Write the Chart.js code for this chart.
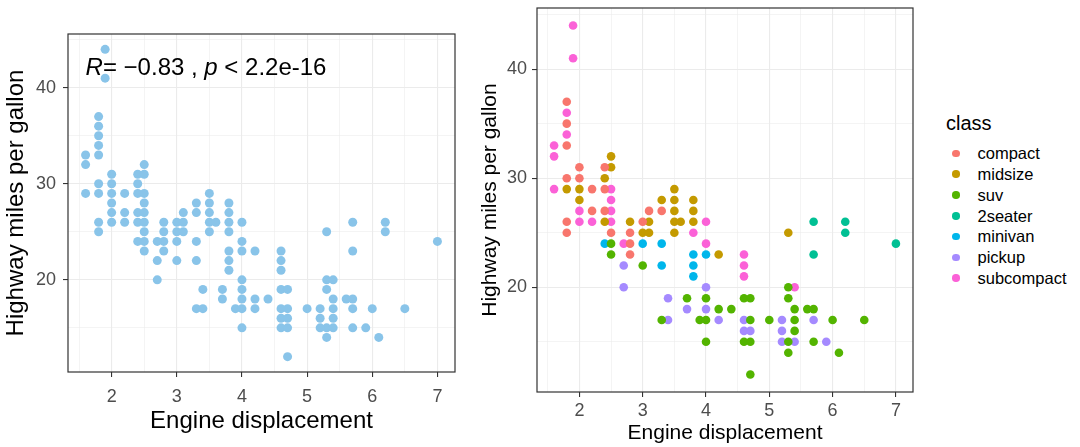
<!DOCTYPE html>
<html>
<head>
<meta charset="utf-8">
<script src="https://cdn.jsdelivr.net/npm/chart.js@4/dist/chart.umd.min.js"></script>
<style>
  body { margin: 0; background: #fff; width: 1080px; height: 447px; position: relative; overflow: hidden;
         font-family: "Liberation Sans", Arial, sans-serif; }
  #leftChart { position: absolute; left: 0; top: 0; }
  #rightChart { position: absolute; left: 470px; top: 0; }
  #legendTitle { position: absolute; left: 946px; top: 113px; font-size: 20px; line-height: 20px; color: #000; }
  #legendItems { position: absolute; left: 952px; top: 143px; }
  .row { height: 20.8px; display: flex; align-items: center; font-size: 16.5px; color: #000; }
  .dot { width: 7.5px; height: 7.5px; border-radius: 50%; margin-right: 18px; }
  .row span.lbl { line-height: 1; }
</style>
</head>
<body>
<canvas id="leftChart" width="470" height="447"></canvas>
<canvas id="rightChart" width="450" height="447"></canvas>
<div id="legendTitle">class</div>
<div id="legendItems"></div>

<script>
// mpg: engine displacement vs highway mpg, one entry per visible dot, grouped by class
const classNames  = ['compact', 'midsize', 'suv', '2seater', 'minivan', 'pickup', 'subcompact'];
const classColors = ['#F8766D', '#C49A00', '#53B400', '#00C094', '#00B6EB', '#A58AFF', '#FB61D7'];

const compactDispl = [1.8, 1.8, 1.8, 1.8, 1.8, 1.8, 2.0, 2.0, 2.2, 2.2, 2.4, 2.4, 2.4, 2.5, 2.8, 2.8, 2.8, 3.0, 3.1, 3.3];
const compactHwy   = [37, 35, 33, 30, 26, 25, 31, 30, 29, 27, 31, 29, 27, 25, 25, 24, 23, 26, 27, 27];

const midsizeDispl = [1.8, 2.0, 2.0, 2.4, 2.4, 2.5, 2.5, 2.8, 3.0, 3.1, 3.1, 3.3, 3.5, 3.5, 3.5, 3.5, 3.5, 3.6, 3.8, 3.8, 3.8, 4.2, 5.3];
const midsizeHwy   = [29, 29, 28, 30, 26, 32, 31, 26, 25, 26, 25, 28, 29, 28, 27, 26, 25, 26, 28, 27, 26, 23, 25];

const suvDispl = [2.5, 2.5, 3.0, 3.3, 3.7, 3.9, 4.0, 4.0, 4.0, 4.2, 4.4, 4.6, 4.6, 4.7, 4.7, 4.7, 4.7, 5.0, 5.3, 5.3, 5.3, 5.3, 5.4, 5.4, 5.4, 5.6, 5.7, 5.7, 6.0, 6.1, 6.5];
const suvHwy   = [24, 23, 22, 17, 19, 17, 19, 17, 15, 18, 18, 19, 15, 19, 17, 15, 12, 17, 20, 19, 15, 14, 18, 17, 16, 18, 18, 15, 17, 14, 17];

const twoSeaterDispl = [5.7, 5.7, 6.2, 6.2, 7.0];
const twoSeaterHwy   = [26, 23, 26, 25, 24];

const minivanDispl = [2.4, 3.0, 3.3, 3.3, 3.8, 3.8, 3.8, 4.0];
const minivanHwy   = [24, 24, 24, 22, 23, 22, 21, 23];

const pickupDispl = [2.7, 2.7, 3.4, 3.4, 3.7, 4.0, 4.0, 4.2, 4.6, 4.6, 4.7, 5.2, 5.2, 5.2, 5.4, 5.7, 5.9];
const pickupHwy   = [22, 20, 19, 17, 18, 20, 18, 17, 17, 16, 16, 17, 16, 15, 15, 17, 15];

const subcompactDispl = [1.6, 1.6, 1.6, 1.8, 1.8, 1.9, 1.9, 2.0, 2.0, 2.2, 2.5, 2.5, 2.5, 2.5, 2.7, 3.8, 4.0, 4.0, 4.6, 4.6, 4.6, 5.4];
const subcompactHwy   = [33, 32, 29, 36, 34, 44, 41, 27, 26, 26, 29, 28, 27, 26, 24, 25, 26, 24, 23, 22, 21, 20];

const xTickLabels = [2, 3, 4, 5, 6, 7];
const yTickLabels = [20, 30, 40];

const corLabelX = 1.6;
const corLabelY = 42;
const corParts = [['R', true], ['= \u22120.83 , ', false], ['p', true], [' < 2.2e-16', false]];

const classDispl = [compactDispl, midsizeDispl, suvDispl, twoSeaterDispl, minivanDispl, pickupDispl, subcompactDispl];
const classHwy   = [compactHwy, midsizeHwy, suvHwy, twoSeaterHwy, minivanHwy, pickupHwy, subcompactHwy];

const FONT = '"Liberation Sans", Arial, sans-serif';
Chart.defaults.font.family = FONT;

function toPoints(xs, ys) {
    return xs.map((x, i) => ({ x: x, y: ys[i] }));
}

const isMajor = (list, v) => list.some(t => Math.abs(t - v) < 1e-6);

// no extra room for half tick labels, the layout padding does it
function noLabelPadding(s) {
    s.paddingTop = 0; s.paddingBottom = 0; s.paddingLeft = 0; s.paddingRight = 0;
}

// panel border like theme_bw
const panelBorder = {
    id: 'panelBorder',
    afterDatasetsDraw(chart) {
        const { ctx, chartArea: a } = chart;
        ctx.save();
        ctx.strokeStyle = '#333333';
        ctx.lineWidth = 1.2;
        ctx.strokeRect(a.left, a.top, a.right - a.left, a.bottom - a.top);
        ctx.restore();
    }
};

// the "R = -0.83 , p < 2.2e-16" label
const corLabel = {
    id: 'corLabel',
    afterDatasetsDraw(chart) {
        const { ctx, scales } = chart;
        let x = scales.x.getPixelForValue(corLabelX);
        const y = scales.y.getPixelForValue(corLabelY);
        ctx.save();
        ctx.fillStyle = '#000';
        ctx.textAlign = 'left';
        ctx.textBaseline = 'middle';
        corParts.forEach(([txt, italic]) => {
            ctx.font = (italic ? 'italic ' : '') + '24px ' + FONT;
            ctx.fillText(txt, x, y);
            x += ctx.measureText(txt).width;
        });
        ctx.restore();
    }
};

function buildScales(c) {
    return {
        x: {
            type: 'linear',
            min: 1.33, max: 7.27,
            afterFit: s => { s.height = c.xHeight; noLabelPadding(s); },
            ticks: {
                stepSize: 0.5, includeBounds: false, padding: c.xTickPad,
                color: '#4D4D4D', font: { size: 18 },
                callback: v => isMajor(xTickLabels, v) ? String(Math.round(v)) : ''
            },
            grid: {
                color: '#EBEBEB',
                lineWidth: ctx => isMajor(xTickLabels, ctx.tick.value) ? 1.1 : 0.55,
                tickLength: 5,
                tickWidth: 1.1,
                tickColor: ctx => isMajor(xTickLabels, ctx.tick.value) ? '#333333' : 'rgba(0,0,0,0)'
            },
            border: { display: false },
            title: {
                display: true, text: 'Engine displacement', color: '#000',
                font: { size: c.titleSize }, padding: { top: 0, bottom: c.xTitlePad }
            }
        },
        y: {
            type: 'linear',
            min: 10.4, max: 45.6,
            afterFit: s => { s.width = c.yWidth; noLabelPadding(s); },
            ticks: {
                stepSize: 5, includeBounds: false, padding: c.yTickPad,
                color: '#4D4D4D', font: { size: 18 },
                callback: v => isMajor(yTickLabels, v) ? String(Math.round(v)) : ''
            },
            grid: {
                color: '#EBEBEB',
                lineWidth: ctx => isMajor(yTickLabels, ctx.tick.value) ? 1.1 : 0.55,
                tickLength: 5,
                tickWidth: 1.1,
                tickColor: ctx => isMajor(yTickLabels, ctx.tick.value) ? '#333333' : 'rgba(0,0,0,0)'
            },
            border: { display: false },
            title: {
                display: true, text: 'Highway miles per gallon', color: '#000',
                font: { size: c.titleSize }, padding: { top: c.yTitlePad, bottom: 0 }
            }
        }
    };
}

// left panel: all cars, single colour
const allPoints = [];
classDispl.forEach((xs, i) => allPoints.push(...toPoints(xs, classHwy[i])));

new Chart(document.getElementById('leftChart'), {
    type: 'scatter',
    data: {
        datasets: [{
            data: allPoints,
            pointRadius: 4.5,
            pointBorderWidth: 0,
            pointBackgroundColor: '#89C4E9'
        }]
    },
    options: {
        responsive: false,
        animation: false,
        layout: { padding: { left: 0, top: 34, right: 15, bottom: 0 } },
        plugins: { legend: { display: false }, tooltip: { enabled: false } },
        scales: buildScales({ xHeight: 75, yWidth: 68, xTickPad: 9, yTickPad: 7, titleSize: 24, xTitlePad: 11, yTitlePad: 2 })
    },
    plugins: [panelBorder, corLabel]
});

// right panel: coloured by class
new Chart(document.getElementById('rightChart'), {
    type: 'scatter',
    data: {
        datasets: classNames.map((name, i) => ({
            label: name,
            data: toPoints(classDispl[i], classHwy[i]),
            pointRadius: 4.3,
            pointBorderWidth: 0,
            pointBackgroundColor: classColors[i]
        }))
    },
    options: {
        responsive: false,
        animation: false,
        layout: { padding: { left: 0, top: 8, right: 7, bottom: 0 } },
        plugins: { legend: { display: false }, tooltip: { enabled: false } },
        scales: buildScales({ xHeight: 55, yWidth: 67, xTickPad: 3, yTickPad: 5, titleSize: 21, xTitlePad: 1, yTitlePad: 8 })
    },
    plugins: [panelBorder]
});

// legend, built from the same class arrays
const legendBox = document.getElementById('legendItems');
classNames.forEach((name, i) => {
    const row = document.createElement('div');
    row.className = 'row';
    row.innerHTML = '<span class="dot" style="background:' + classColors[i] + '"></span><span class="lbl">' + name + '</span>';
    legendBox.appendChild(row);
});
</script>
</body>
</html>
